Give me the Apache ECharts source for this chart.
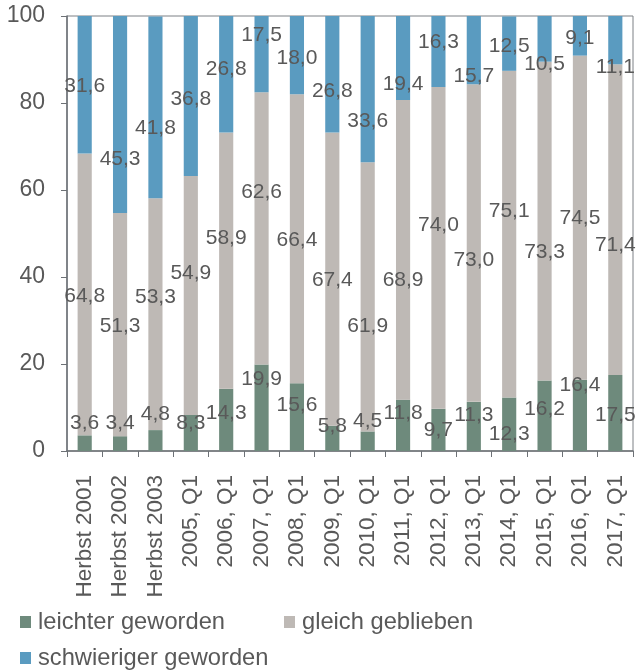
<!DOCTYPE html>
<html>
<head>
<meta charset="utf-8">
<script src="https://cdn.jsdelivr.net/npm/echarts@6/dist/echarts.min.js"></script>
<style>
html,body{margin:0;padding:0;background:#fff;}
#chart{width:636px;height:670px;}
</style>
</head>
<body>
<div id="chart"></div>
<script>
// ---- data ----
const categories = ["Herbst 2001","Herbst 2002","Herbst 2003","2005, Q1","2006, Q1","2007, Q1","2008, Q1","2009, Q1","2010, Q1","2011, Q1","2012, Q1","2013, Q1","2014, Q1","2015, Q1","2016, Q1","2017, Q1"];
const leichter    = [3.6, 3.4, 4.8, 8.3, 14.3, 19.9, 15.6, 5.8, 4.5, 11.8, 9.7, 11.3, 12.3, 16.2, 16.4, 17.5];
const gleich      = [64.8, 51.3, 53.3, 54.9, 58.9, 62.6, 66.4, 67.4, 61.9, 68.9, 74.0, 73.0, 75.1, 73.3, 74.5, 71.4];
const schwieriger = [31.6, 45.3, 41.8, 36.8, 26.8, 17.5, 18.0, 26.8, 33.6, 19.4, 16.3, 15.7, 12.5, 10.5, 9.1, 11.1];
const yTicks = [0, 20, 40, 60, 80, 100];

// ---- label layout nudges (px, vertical), as in the reference ----
const nudgeLeichter    = [-20, -20, -26, -10, -7, -29, -12, -12, -20, -12, 0, -11, 10, -7, -30, 2];
const nudgeGleich      = [2, 2, -17, -22, -22, -36, 1, 1, 29, 30, -23, 17, -23, 31, 1, 26];
const nudgeSchwieriger = [1, 45, 21, 3, -5, -19, 3, 17, 32, 26, -9, 26, 3, 25, 2, 27];

const textColor = '#595959';
const fmt = v => v.toFixed(1).replace('.', ',');

function makeSeries(name, values, nudges, color) {
  return {
    name: name,
    type: 'bar',
    stack: 'total',
    barCategoryGap: '60%',
    itemStyle: { color: color, borderWidth: 0 },
    data: values.map((v, i) => ({
      value: v,
      label: { offset: [0, nudges[i]] }
    })),
    label: {
      show: true,
      position: 'inside',
      color: textColor,
      fontSize: 21,
      fontFamily: 'Liberation Sans, Arial, sans-serif',
      textBorderWidth: 0,
      formatter: p => fmt(p.value)
    }
  };
}

const chart = echarts.init(document.getElementById('chart'), null, { renderer: 'canvas' });
chart.setOption({
  animation: false,
  backgroundColor: '#fff',
  textStyle: { fontFamily: 'Liberation Sans, Arial, sans-serif' },
  grid: {
    left: 67, right: 3, top: 16, bottom: 219,
    show: true, borderColor: '#7d8085', borderWidth: 1, containLabel: false
  },
  legend: {
    left: 15, top: 604,
    itemWidth: 11, itemHeight: 12,
    itemGap: 10,
    icon: 'path://M0,0H11V12H0Z',
    itemStyle: { borderWidth: 0 },
    textStyle: { color: textColor, fontSize: 23.7, width: 236, lineHeight: 26, padding: [0, 0, 0, 2] },
    data: ['leichter geworden', 'gleich geblieben', 'schwieriger geworden']
  },
  xAxis: {
    type: 'category',
    data: categories,
    axisLine: { lineStyle: { color: '#6d7176', width: 1.5 } },
    axisTick: { show: true, length: 6, alignWithLabel: false, lineStyle: { color: '#6d7176' } },
    axisLabel: { rotate: 90, color: textColor, fontSize: 22.5, margin: 24, interval: 0 }
  },
  yAxis: {
    type: 'value',
    min: yTicks[0], max: yTicks[yTicks.length - 1], interval: yTicks[1] - yTicks[0],
    splitLine: { show: false },
    axisLine: { show: true, lineStyle: { color: '#6d7176', width: 1.5 } },
    axisTick: { show: true, length: 6, lineStyle: { color: '#6d7176' } },
    axisLabel: { color: textColor, fontSize: 23, margin: 22 }
  },
  series: [
    makeSeries('leichter geworden', leichter, nudgeLeichter, '#6E8A7C'),
    makeSeries('gleich geblieben', gleich, nudgeGleich, '#BEB9B5'),
    makeSeries('schwieriger geworden', schwieriger, nudgeSchwieriger, '#5A9BC0')
  ]
});
</script>
</body>
</html>
